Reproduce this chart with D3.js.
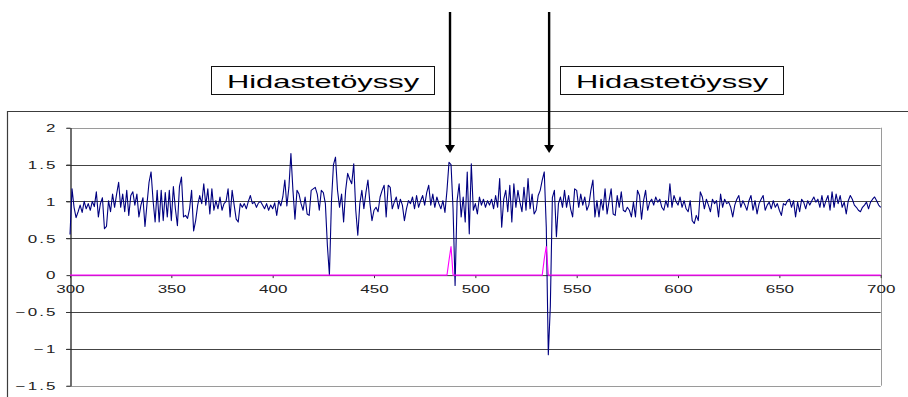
<!DOCTYPE html>
<html>
<head>
<meta charset="utf-8">
<script src="https://cdn.jsdelivr.net/npm/d3@7"></script>
<style>
  html, body { margin: 0; padding: 0; background: #fff; }
  svg { display: block; }
  text { font-family: "Liberation Sans", Arial, sans-serif; }
</style>
</head>
<body>
<svg id="chart" width="908" height="397"></svg>
<script>
// Sample positions: one reading per unit, starting at 300
const xStart = 300;

// Measured signal (one value per sample, 300..700)
const signal = [
  0.55, 1.17, 0.92, 0.78, 0.86, 0.95, 0.85, 1.00, 0.90, 0.97,
  0.88, 1.00, 0.93, 1.13, 0.79, 0.97, 1.05, 0.63, 0.66, 1.01,
  0.86, 1.10, 0.92, 1.10, 1.26, 0.92, 1.10, 0.86, 1.15, 0.81,
  1.08, 1.13, 0.95, 1.10, 0.79, 0.95, 1.05, 0.66, 0.97, 1.26,
  1.40, 1.01, 0.72, 1.15, 0.72, 1.15, 0.74, 1.12, 0.79, 1.15,
  0.74, 1.20, 0.90, 0.67, 1.20, 1.33, 0.79, 0.81, 0.77, 0.90,
  1.15, 0.60, 0.74, 0.95, 1.08, 0.97, 1.24, 0.95, 1.17, 0.83,
  1.17, 0.88, 1.01, 0.90, 1.06, 0.88, 0.97, 1.00, 1.17, 0.79,
  1.15, 0.95, 0.76, 0.72, 0.97, 0.92, 0.97, 0.90, 1.00, 1.08,
  0.97, 0.99, 0.92, 0.98, 1.00, 0.95, 0.90, 0.97, 0.88, 0.95,
  0.90, 0.98, 0.81, 1.01, 0.94, 1.06, 1.29, 0.94, 1.19, 1.65,
  1.15, 0.76, 1.15, 1.10, 0.97, 0.88, 1.06, 0.83, 0.81, 1.15,
  1.17, 1.19, 1.10, 0.88, 1.15, 1.12, 0.97, 0.40, 0.00, 1.00,
  1.50, 1.60, 1.15, 0.92, 1.10, 0.72, 1.15, 1.38, 1.30, 1.24,
  1.51, 0.88, 0.54, 0.97, 1.15, 0.90, 1.12, 1.29, 0.97, 0.74,
  0.88, 0.92, 0.86, 1.06, 1.15, 1.22, 0.79, 1.22, 1.19, 0.90,
  0.99, 1.06, 0.90, 1.03, 0.95, 0.74, 0.90, 1.01, 0.97, 1.06,
  0.90, 1.08, 0.92, 1.01, 1.08, 0.95, 1.12, 1.22, 0.95, 1.10,
  0.92, 1.06, 0.97, 0.90, 1.01, 0.85, 1.15, 1.53, 1.50, 0.90,
  -0.14, 1.01, 1.24, 0.79, 1.06, 0.72, 1.40, 0.56, 1.51, 0.88,
  0.97, 0.83, 1.06, 0.95, 1.03, 0.92, 1.01, 0.95, 1.03, 0.90,
  1.08, 0.92, 1.31, 0.65, 1.03, 1.15, 0.86, 1.22, 0.72, 1.24,
  0.92, 1.15, 0.99, 0.86, 1.19, 0.88, 1.31, 0.90, 1.10, 0.83,
  0.88, 1.08, 1.15, 1.29, 1.40, 0.65, -1.08, -0.42, 1.05, 1.15,
  0.52, 0.97, 1.06, 0.92, 1.15, 0.92, 1.08, 0.90, 0.79, 1.17,
  1.15, 0.92, 1.10, 0.95, 1.06, 0.88, 0.95, 1.15, 1.29, 0.79,
  1.01, 0.79, 1.03, 0.88, 1.17, 0.83, 1.01, 1.17, 0.83, 0.81,
  1.08, 0.92, 1.13, 0.88, 0.86, 0.92, 0.88, 0.79, 0.99, 0.79,
  1.15, 1.08, 0.76, 1.01, 1.15, 0.88, 0.99, 1.03, 0.95, 1.06,
  0.99, 1.03, 0.92, 0.88, 1.01, 0.92, 1.24, 0.92, 1.08, 1.00,
  0.95, 1.06, 0.92, 1.01, 0.90, 0.86, 1.01, 0.74, 0.70, 0.81,
  0.74, 1.13, 1.06, 0.90, 1.03, 0.95, 0.86, 1.03, 0.97, 1.01,
  0.79, 1.10, 0.92, 1.03, 0.97, 0.99, 0.92, 0.79, 0.95, 1.03,
  1.08, 0.92, 1.01, 0.95, 0.88, 1.01, 1.08, 0.88, 1.01, 0.83,
  0.97, 1.03, 1.08, 0.88, 0.95, 0.99, 0.90, 1.01, 0.92, 0.97,
  0.88, 0.81, 0.97, 0.95, 1.01, 1.03, 0.92, 1.01, 0.79, 0.99,
  0.86, 1.03, 0.99, 0.90, 1.01, 0.95, 1.01, 1.06, 0.99, 1.03,
  0.92, 1.08, 0.92, 1.01, 1.08, 0.88, 1.13, 0.92, 1.10, 0.97,
  1.08, 0.92, 0.99, 0.83, 1.01, 1.08, 1.03, 0.95, 0.92, 0.88,
  0.86, 0.92, 0.95, 0.99, 0.90, 0.99, 1.03, 1.06, 1.01, 0.95,
  0.92
];

// Detector channel: zero except two short pulses
const pulseX = [300, 486, 487, 488, 489, 533, 534, 535, 536, 700];
const pulseY = [0, 0, 0.20, 0.39, 0, 0, 0.22, 0.39, 0, 0];

// Axis ticks
const xTicks = [300, 350, 400, 450, 500, 550, 600, 650, 700];
const yTicks = [-1.5, -1, -0.5, 0, 0.5, 1, 1.5, 2];

// Callouts
const calloutLabels = ["Hidastetöyssy", "Hidastetöyssy"];
const arrowX = [487.5, 536.4];

const svg = d3.select("#chart");
const W = 908, H = 397;
const plot = { left: 70, right: 880.7, top: 127.7, bottom: 385.7 };
const stretch = 1.7;   // wide lettering of the chart text

const x = d3.scaleLinear().domain([300, 700]).range([plot.left, plot.right]);
const y = d3.scaleLinear().domain([-1.5, 2]).range([plot.bottom, plot.top]);

svg.append("rect").attr("width", W).attr("height", H).attr("fill", "#fff");

// Chart area frame (left and top edges visible)
svg.append("path")
  .attr("d", `M7.5,${H} V111.5 H${W}`)
  .attr("fill", "none").attr("stroke", "#3c3c3c").attr("stroke-width", 1.2);

// Horizontal gridlines
svg.append("g").selectAll("line")
  .data(yTicks.filter(v => v !== 0))
  .join("line")
  .attr("x1", plot.left - 4).attr("x2", plot.right)
  .attr("y1", d => Math.round(y(d)) + 0.5).attr("y2", d => Math.round(y(d)) + 0.5)
  .attr("stroke", d => (d === 2 || d === -1.5) ? "#9a9a9a" : "#444")
  .attr("stroke-width", 1);

// Right edge of the plot area
svg.append("line")
  .attr("x1", Math.round(plot.right) + 0.5).attr("x2", Math.round(plot.right) + 0.5)
  .attr("y1", y(2)).attr("y2", y(-1.5))
  .attr("stroke", "#9a9a9a");

// Y axis
const yAxis = svg.append("g")
  .attr("transform", `translate(${plot.left + 0.5},0)`)
  .call(d3.axisLeft(y).tickValues(yTicks).tickSize(4).tickSizeOuter(0).tickFormat(d3.format("")));
yAxis.select(".domain").attr("stroke", "#222").attr("stroke-width", 1.3);
yAxis.selectAll(".tick line").attr("stroke", "#333");
yAxis.selectAll(".tick text")
  .attr("x", 0).attr("dy", null)
  .attr("transform", `translate(-13,3.8) scale(${stretch},1)`)
  .attr("text-anchor", "end")
  .attr("font-size", 10).attr("letter-spacing", 1.2)
  .attr("font-family", "Liberation Sans, Arial, sans-serif")
  .attr("fill", "#222");

// X axis crossing at zero
const xAxis = svg.append("g")
  .attr("transform", `translate(0,${y(0)})`)
  .call(d3.axisBottom(x).tickValues(xTicks).tickSize(3).tickSizeOuter(0).tickFormat(d3.format("d")));
xAxis.select(".domain").attr("stroke", "#333");
xAxis.selectAll(".tick line").attr("stroke", "#333");
xAxis.selectAll(".tick text")
  .attr("y", 0).attr("dy", null)
  .attr("transform", `translate(0,17.7) scale(${stretch},1)`)
  .attr("text-anchor", "middle")
  .attr("font-size", 10)
  .attr("font-family", "Liberation Sans, Arial, sans-serif")
  .attr("fill", "#222");

// Signal trace
const signalLine = d3.line()
  .x((d, i) => x(xStart + i))
  .y(d => y(d));
svg.append("path")
  .datum(signal)
  .attr("d", signalLine)
  .attr("fill", "none")
  .attr("stroke", "#000080")
  .attr("stroke-width", 1.1)
  .attr("stroke-linejoin", "round");

// Pulse trace
const pulseLine = d3.line()
  .x((d, i) => x(pulseX[i]))
  .y(d => y(d));
svg.append("path")
  .datum(pulseY)
  .attr("d", pulseLine)
  .attr("fill", "none")
  .attr("stroke", "#ff00ff")
  .attr("stroke-width", 1.1);

// Arrows marking the bumps
const arrows = svg.append("g");
arrowX.forEach(v => {
  const ax = x(v);
  arrows.append("line")
    .attr("x1", ax).attr("x2", ax)
    .attr("y1", 12).attr("y2", 146)
    .attr("stroke", "#000").attr("stroke-width", 2.4);
  arrows.append("path")
    .attr("d", `M${ax - 5},145 L${ax + 5},145 L${ax},153 Z`)
    .attr("fill", "#000");
});

// Label boxes
const boxes = [{ x: 211, w: 223 }, { x: 560, w: 223 }];
boxes.forEach((b, i) => {
  const g = svg.append("g");
  g.append("rect")
    .attr("x", b.x + 0.5).attr("y", 66.5)
    .attr("width", b.w).attr("height", 28)
    .attr("fill", "#fff").attr("stroke", "#111").attr("stroke-width", 1);
  g.append("text")
    .attr("transform", `translate(${b.x + b.w / 2 + 0.5},87.5) scale(1.67,1)`)
    .attr("text-anchor", "middle")
    .attr("font-size", 18.5)
    .attr("fill", "#000")
    .text(calloutLabels[i]);
});
</script>
</body>
</html>
